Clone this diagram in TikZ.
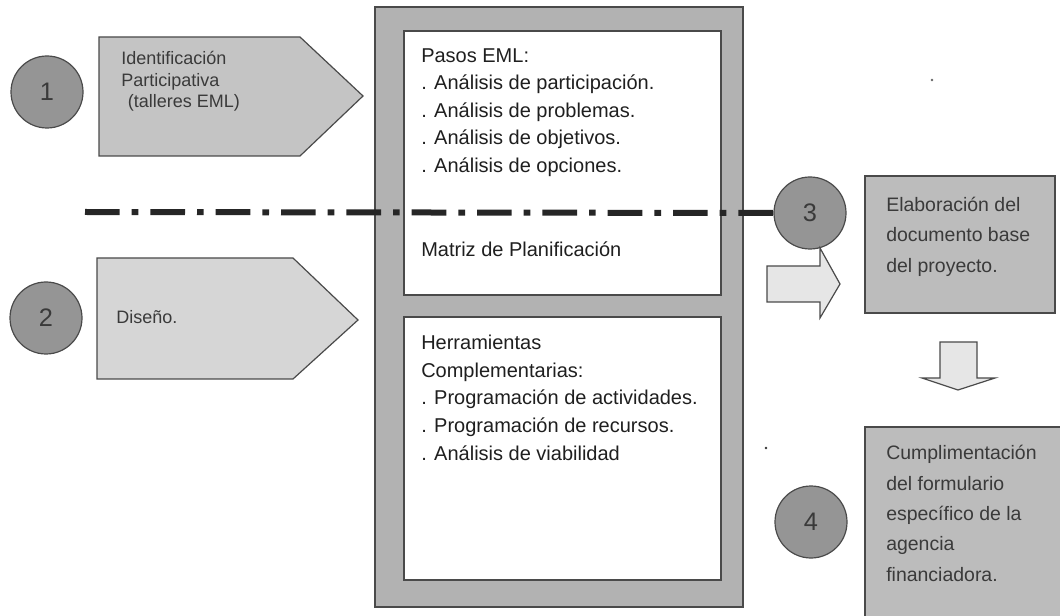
\documentclass[tikz,border=0pt]{standalone}
\usepackage{fontspec}
\setmainfont{Liberation Sans}
\definecolor{lineg}{HTML}{4A4A4A}
\definecolor{circg}{HTML}{959595}
\definecolor{frameg}{HTML}{B2B2B2}
\definecolor{pentA}{HTML}{C4C4C4}
\definecolor{pentB}{HTML}{D6D6D6}
\definecolor{boxg}{HTML}{BCBCBC}
\definecolor{arrg}{HTML}{E6E6E6}
\definecolor{txtg}{HTML}{3A3A3A}
\begin{document}
\begin{tikzpicture}[x=0.75pt,y=-0.75pt,
  shapeline/.style={draw=lineg, line width=0.9pt},
  numcirc/.style={circle, draw=lineg, line width=0.9pt, fill=circg, minimum size=54pt, inner sep=0pt,
    font=\fontsize{19}{19}\selectfont, text=txtg},
  penttext/.style={anchor=north west, inner sep=0pt, align=left, text=txtg, font=\fontsize{13.5}{16.2}\selectfont},
  midtext/.style={anchor=north west, inner sep=0pt, align=left, text=black!88, font=\fontsize{15}{20.7}\selectfont},
  sidetext/.style={anchor=north west, inner sep=0pt, align=left, text=txtg, font=\fontsize{14.6}{22.8}\selectfont},
  dashdot/.style={line width=4.5pt, black!85, dash pattern=on 26pt off 9pt on 5pt off 9pt}
]
\useasboundingbox (0,0) rectangle (1060,616);
\clip (0,0) rectangle (1060,616);

% circles 1 and 2
\node[numcirc] (c1) at (47,92) {1};
\node[numcirc] (c2) at (46,318) {2};

% pentagon 1
\draw[shapeline, fill=pentA] (99,37) -- (300,37) -- (363,96) -- (300,156) -- (99,156) -- cycle;
\node[penttext] (t1) at (121,51) {Identificación\\Participativa\\\hspace*{5pt}(talleres EML)};

% pentagon 2
\draw[shapeline, fill=pentB] (97,258) -- (293,258) -- (358,320) -- (293,379) -- (97,379) -- cycle;
\node[penttext] (t2) at (116,310) {Diseño.};

% central frame
\draw[shapeline, fill=frameg] (375,7) rectangle (743,607);
\draw[shapeline, fill=white] (404,31) rectangle (721,295);
\draw[shapeline, fill=white] (404,317) rectangle (721,580);

\node[midtext] (m1) at (421,48) {Pasos EML:\\. Análisis de participación.\\. Análisis de problemas.\\. Análisis de objetivos.\\. Análisis de opciones.};
\node[midtext] (m2) at (421,242) {Matriz de Planificación};
\node[midtext] (m3) at (421,335) {Herramientas\\Complementarias:\\. Programación de actividades.\\. Programación de recursos.\\. Análisis de viabilidad};

% circle 3, dash-dot line
\node[numcirc] (c3) at (810,213) {3};
\coordinate (lstart) at (85,212);
\draw[dashdot] (lstart) -- (c3.west);

% box 3
\draw[shapeline, fill=boxg] (865,176) rectangle (1055,313);
\node[sidetext] (b3) at (886,197) {Elaboración del\\documento base\\del proyecto.};

% right block arrow
\draw[shapeline, fill=arrg] (767,266) -- (820,266) -- (820,248) -- (840,284) -- (820,318) -- (820,302) -- (767,302) -- cycle;

% down block arrow
\draw[shapeline, fill=arrg] (940,342) -- (977,342) -- (977,378) -- (995,378) -- (958,390) -- (922,378) -- (940,378) -- cycle;

% box 4
\draw[shapeline, fill=boxg] (865,427) rectangle (1075,630);
\node[sidetext] (b4) at (886,445) {Cumplimentación\\del formulario\\específico de la\\agencia\\financiadora.};

% circle 4
\node[numcirc] (c4) at (811,522) {4};

% specks
\fill[black!80] (766,448) circle (1.3);
\fill[black!60] (932,80) circle (1.3);
\end{tikzpicture}
\end{document}
